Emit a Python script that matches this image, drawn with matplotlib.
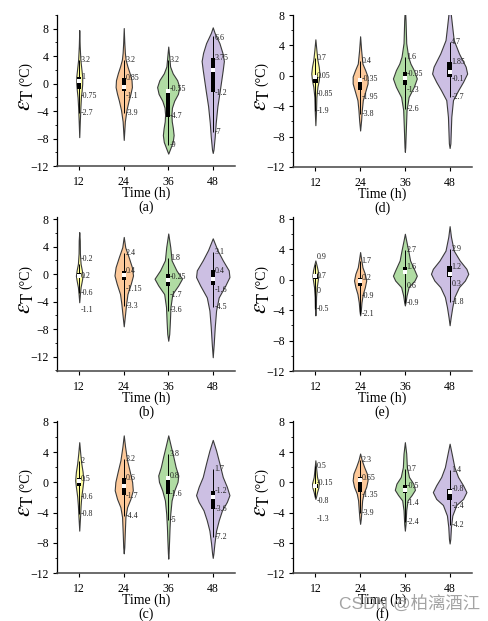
import numpy as np
import matplotlib
matplotlib.use('Agg')
import matplotlib.pyplot as plt
from matplotlib.ticker import MultipleLocator

plt.rcParams['font.family'] = 'serif'
plt.rcParams['font.serif'] = ['Liberation Serif', 'DejaVu Serif']
plt.rcParams['mathtext.fontset'] = 'stix'

times = [12, 24, 36, 48]
colors = ['#FFFF9E', '#FDC99A', '#B0DCA3', '#CCBFE3']
panels = ['a', 'b', 'c', 'd', 'e', 'f']

# density outline of each violin: y values and half widths (hours)
dens_y = {
    'a': [[7.8, 5.5, 3.5, 2.0, 1.0, 0.0, -1.0, -2.0, -3.5, -5.5, -7.8],
          [8.1, 6.0, 4.5, 3.5, 2.5, 1.5, 0.5, -0.5, -1.5, -2.5, -3.8, -5.5, -8.2],
          [5.4, 4.0, 2.5, 1.5, 0.5, -0.5, -1.5, -2.5, -3.5, -4.5, -5.5, -6.5, -7.5, -8.5, -9.5, -10.2],
          [8.2, 7.4, 6.7, 5.9, 4.5, 3.3, 2.0, 0.5, -1.0, -3.3, -5.7, -7.7, -9.6, -10.1]],
    'b': [[6.1, 4.9, 3.0, 1.5, 0.5, -0.25, -0.9, -1.9, -2.9, -4.1],
          [5.4, 3.9, 2.5, 1.0, -0.2, -1.4, -2.9, -4.3, -5.8, -7.6],
          [5.9, 3.9, 2.0, 0.54, -0.68, -1.65, -2.9, -4.8, -6.8, -8.7, -9.7],
          [5.2, 3.5, 2.0, 0.54, -0.43, -1.65, -3.4, -5.3, -7.7, -10.1, -12.1]],
    'c': [[5.3, 3.8, 2.5, 1.4, 0.26, -0.6, -1.9, -3.1, -4.4, -6.4],
          [6.2, 4.7, 2.9, 1.4, 0.04, -1.06, -2.2, -3.3, -4.6, -6.8, -8.6, -9.4],
          [6.2, 4.7, 3.4, 2.0, 0.9, 0.04, -1.06, -2.4, -4.2, -5.9, -7.7, -9.4, -10.1],
          [5.6, 4.2, 2.5, 0.7, -0.6, -1.7, -2.6, -3.7, -5.0, -6.4, -8.1, -9.4, -10.0]],
    'd': [[4.8, 3.4, 2.1, 1.2, 0.3, -0.6, -1.45, -2.8, -4.5, -6.5],
          [5.2, 3.4, 1.6, 0.75, -0.1, -1.0, -2.1, -3.2, -4.5, -5.8, -7.2],
          [9.0, 7.3, 4.3, 2.5, 1.6, 0.75, -0.35, -1.45, -2.8, -4.5, -7.6, -9.4, -10.0],
          [9.5, 6.4, 4.7, 2.95, 1.2, 0.3, -0.8, -1.9, -3.2, -5.4, -8.9, -9.5]],
    'e': [[2.5, 1.8, 1.2, 0.5, -0.13, -1.0, -2.3, -3.6, -4.7],
          [3.6, 2.7, 1.6, 0.75, -0.13, -1.0, -1.9, -3.0, -4.1, -4.7],
          [6.0, 5.1, 3.8, 2.5, 1.2, 0.5, -0.13, -1.0, -2.1, -3.0, -3.4],
          [7.0, 5.6, 3.8, 2.5, 1.4, 0.75, -0.13, -1.0, -2.3, -3.6, -5.0, -6.0]],
    'f': [[2.9, 2.0, 0.7, -0.18, -0.7, -1.3, -1.9, -2.2],
          [3.8, 2.9, 2.0, 1.15, 0.26, -0.6, -1.5, -2.4, -3.7, -4.8, -5.5],
          [5.3, 3.8, 2.0, 0.7, -0.18, -1.0, -1.7, -2.4, -3.7, -5.5, -6.4],
          [5.1, 3.8, 2.0, 0.7, -0.4, -1.3, -2.2, -3.0, -4.4, -5.9, -7.5, -8.1]],
}
dens_w = {
    'a': [[0, 0.12, 0.3, 0.6, 0.8, 0.8, 0.65, 0.45, 0.3, 0.15, 0],
          [0, 0.15, 0.3, 0.5, 1.0, 1.6, 2.1, 2.2, 1.8, 1.3, 0.75, 0.3, 0],
          [0, 0.25, 0.5, 1.2, 2.4, 3.0, 2.6, 1.6, 1.0, 0.85, 0.95, 1.25, 1.45, 1.2, 0.5, 0],
          [0, 0.5, 1.1, 1.8, 2.6, 3.0, 2.7, 2.3, 1.9, 1.25, 0.8, 0.54, 0.2, 0]],
    'b': [[0, 0.14, 0.18, 0.36, 0.72, 0.9, 0.72, 0.36, 0.18, 0],
          [0, 0.4, 1.3, 2.2, 2.5, 1.9, 1.0, 0.65, 0.36, 0],
          [0, 0.55, 0.9, 2.2, 3.7, 2.7, 1.1, 0.6, 0.45, 0.27, 0],
          [0, 1.25, 2.7, 4.3, 4.5, 3.4, 1.6, 0.9, 0.54, 0.27, 0]],
    'c': [[0, 0.27, 0.55, 0.9, 1.1, 0.9, 0.55, 0.36, 0.23, 0],
          [0, 0.36, 0.9, 1.63, 2.26, 2.44, 1.8, 0.9, 0.45, 0.27, 0.14, 0],
          [0, 0.72, 1.36, 2.0, 2.7, 2.5, 1.63, 0.9, 0.54, 0.36, 0.23, 0.09, 0],
          [0, 0.9, 1.8, 2.7, 3.8, 4.5, 3.8, 2.5, 1.63, 0.9, 0.45, 0.18, 0]],
    'd': [[0, 0.27, 0.55, 0.9, 1.1, 0.9, 0.55, 0.27, 0.18, 0],
          [0, 0.27, 0.63, 1.36, 2.0, 2.0, 1.36, 0.72, 0.45, 0.27, 0],
          [0, 0.18, 0.36, 0.9, 1.5, 2.4, 3.2, 2.4, 1.0, 0.45, 0.22, 0.1, 0],
          [0, 0.7, 1.1, 2.5, 4.3, 4.7, 3.6, 2.3, 0.9, 0.45, 0.2, 0]],
    'e': [[0, 0.36, 0.63, 0.8, 0.63, 0.36, 0.18, 0.14, 0],
          [0, 0.27, 0.63, 1.27, 1.63, 1.27, 0.72, 0.36, 0.18, 0],
          [0, 0.36, 0.9, 1.4, 2.6, 3.2, 2.6, 1.0, 0.45, 0.18, 0],
          [0, 0.36, 1.1, 2.7, 4.5, 5.0, 4.1, 2.5, 1.27, 0.72, 0.27, 0]],
    'f': [[0, 0.18, 0.45, 0.9, 0.8, 0.45, 0.18, 0],
          [0, 0.45, 1.1, 1.8, 2.0, 1.63, 0.9, 0.54, 0.36, 0.18, 0],
          [0, 0.36, 0.54, 1.1, 2.26, 2.7, 1.8, 0.72, 0.36, 0.18, 0],
          [0, 0.54, 1.27, 2.26, 3.6, 4.5, 3.6, 1.8, 0.72, 0.36, 0.18, 0]],
}

q3 = {'a': [1.0, 0.85, -0.8, 3.75], 'b': [0.1, 0.5, 0.05, 0.54], 'c': [0.5, 0.6, 0.7, -1.15],
      'd': [-0.15, -0.35, 0.53, 1.85], 'e': [0.75, 0.2, 1.6, 1.8], 'f': [-0.2, 0.7, -0.4, -0.84]}
q1 = {'a': [-0.8, -1.0, -4.8, -1.2], 'b': [-0.6, -0.8, -1.8, -1.65], 'c': [-0.5, -1.7, -1.5, -3.5],
      'd': [-0.9, -1.9, -1.2, -0.13], 'e': [0.13, -0.9, 0.8, 0.3], 'f': [-0.7, -1.3, -1.4, -2.4]}
med = {'a': [0.4, -0.5, -1.0, 2.0], 'b': [-0.25, -0.2, -0.8, -0.7], 'c': [0.1, -0.5, 0.5, -1.9],
       'd': [-0.2, -0.55, -0.35, 0.5], 'e': [0.4, -0.13, 1.0, 0.75], 'f': [-0.45, 0.26, -1.0, -1.3]}
whi = {'a': [3.5, 3.5, 3.5, 7.0], 'b': [1.5, 3.1, 2.3, 3.2], 'c': [2.8, 3.1, 3.7, 1.7],
       'd': [2.3, 1.9, 2.5, 4.5], 'e': [2.0, 2.4, 3.9, 4.0], 'f': [2.2, 2.9, 1.8, 1.6]}
wlo = {'a': [-4.3, -4.3, -9.0, -7.0], 'b': [-2.8, -4.7, -5.3, -4.8], 'c': [-4.2, -4.4, -5.0, -7.2],
       'd': [-4.6, -5.05, -4.4, -2.85], 'e': [-3.85, -4.5, -3.1, -2.9], 'f': [-2.0, -4.0, -5.2, -5.6]}

labels = {
    'a': [['3.2', '1', '-0.75', '-2.7'], ['3.2', '0.85', '-1.1', '-3.9'],
          ['3.2', '-0.55', '-4.7', '-9'], ['6.6', '3.75', '-1.2', '-7']],
    'b': [['-0.2', '0.2', '-0.6', '-1.1'], ['2.4', '0.4', '-1.15', '-3.3'],
          ['1.8', '-0.25', '-1.7', '-3.6'], ['3.1', '0.4', '-1.6', '-4.5']],
    'c': [['2', '0.5', '-0.6', '-0.8'], ['3.2', '0.6', '-1.7', '-4.4'],
          ['3.8', '0.8', '-1.6', '-5'], ['1.7', '-1.2', '-3.6', '-7.2']],
    'd': [['0.7', '0.05', '-0.85', '-1.9'], ['0.4', '-0.35', '-1.95', '-3.8'],
          ['1.6', '-0.35', '-1.3', '-2.6'], ['4.7', '1.85', '-0.1', '-2.7']],
    'e': [['0.9', '0.7', '0', '-0.5'], ['1.7', '0.2', '-0.9', '-2.1'],
          ['2.7', '1.6', '0.6', '-0.9'], ['2.9', '1.2', '0.3', '-1.8']],
    'f': [['0.5', '-0.15', '-0.8', '-1.3'], ['2.3', '0.65', '-1.35', '-3.9'],
          ['0.7', '-0.5', '-1.4', '-2.4'], ['1.4', '-0.8', '-2.4', '-4.2']],
}
label_y = {
    'a': [[3.5, 0.9, -1.75, -4.3], [3.5, 0.75, -1.75, -4.3], [3.5, -0.8, -4.7, -9.0], [6.7, 3.75, -1.3, -7.0]],
    'b': [[2.2, -0.25, -2.8, -5.3], [3.1, 0.45, -2.15, -4.7], [2.3, -0.4, -3.1, -5.3], [3.2, 0.45, -2.3, -4.8]],
    'c': [[2.8, 0.45, -1.9, -4.2], [3.1, 0.57, -1.8, -4.4], [3.7, 0.8, -1.6, -5.0], [1.7, -1.15, -3.6, -7.2]],
    'd': [[2.3, 0.0, -2.4, -4.6], [1.9, -0.45, -2.8, -5.05], [2.5, 0.3, -1.9, -4.4], [4.5, 1.85, -0.45, -2.85]],
    'e': [[3.0, 0.5, -1.5, -3.85], [2.4, 0.2, -2.1, -4.5], [3.9, 1.6, -0.8, -3.1], [4.0, 1.7, -0.57, -2.9]],
    'f': [[2.2, -0.1, -2.5, -4.8], [2.9, 0.62, -1.7, -4.0], [1.8, -0.5, -2.8, -5.2], [1.6, -0.84, -3.2, -5.6]],
}

ylims = {'a': (-12, 10), 'b': (-14.1, 8.3), 'c': (-12, 8.1),
         'd': (-12, 8), 'e': (-12, 8.2), 'f': (-12, 8.1)}

# axes boxes in pixels: left, right, top, bottom
W, H = 489, 621
boxes = {'a': (57, 235, 15, 166), 'b': (57, 235, 217, 371), 'c': (57, 235, 421, 573),
         'd': (293, 472, 15, 167), 'e': (293, 472, 217, 371), 'f': (293, 472, 421, 573)}

fig = plt.figure(figsize=(W / 100, H / 100), dpi=100)

for p in panels:
    x0, x1, yt, yb = boxes[p]
    ax = fig.add_axes([x0 / W, 1 - yb / H, (x1 - x0) / W, (yb - yt) / H])

    stats = []
    widths = []
    for i in range(4):
        ys = np.array(dens_y[p][i])
        ws = np.array(dens_w[p][i])
        stats.append({'coords': ys, 'vals': ws, 'mean': med[p][i], 'median': med[p][i],
                      'min': ys.min(), 'max': ys.max()})
        widths.append(2 * ws.max())
    parts = ax.violin(stats, positions=times, widths=widths, showmeans=False,
                      showextrema=False, showmedians=False)
    for body, c in zip(parts['bodies'], colors):
        body.set_facecolor(c)
        body.set_edgecolor('#3a3a3a')
        body.set_linewidth(0.8)
        body.set_alpha(1)

    ax.vlines(times, wlo[p], whi[p], color='k', lw=0.7, zorder=3)
    box_h = np.array(q3[p]) - np.array(q1[p])
    ax.bar(times, box_h, bottom=q1[p], width=1.2, color='k', zorder=4)
    ax.scatter(times, med[p], marker='s', s=6, color='white', zorder=5, linewidths=0)

    for i, t in enumerate(times):
        for txt, yy in zip(labels[p][i], label_y[p][i]):
            ax.text(t + 0.45, yy, txt, fontsize=5.8, color='#222222', ha='left', va='center', zorder=6)

    ax.set_xlim(6, 54)
    ax.set_ylim(*ylims[p])
    ax.set_xticks(times)
    ax.yaxis.set_major_locator(MultipleLocator(4))
    ax.yaxis.set_minor_locator(MultipleLocator(2))
    ax.tick_params(axis='both', which='major', direction='out', length=3, width=0.8, labelsize=8.5)
    ax.tick_params(axis='y', which='minor', direction='out', length=1.5, width=0.6)
    ax.tick_params(axis='x', pad=4)
    ax.tick_params(axis='y', pad=3)
    ax.spines['top'].set_visible(False)
    ax.spines['right'].set_visible(False)
    ax.spines['left'].set_linewidth(0.9)
    ax.spines['bottom'].set_linewidth(1.1)
    ax.spines['bottom'].set_color('#444444')

    ax.annotate('Time (h)', xy=(0.5, 0), xycoords='axes fraction', xytext=(0, -27),
                textcoords='offset pixels', ha='center', va='center', fontsize=10)
    ax.annotate('(' + p + ')', xy=(0.5, 0), xycoords='axes fraction', xytext=(0, -41),
                textcoords='offset pixels', ha='center', va='center', fontsize=10)
    ax.text(-0.175, 0.44, r'$\varepsilon_{\mathrm{T}}$', transform=ax.transAxes, rotation=90,
            ha='center', va='center', fontsize=17)
    ax.text(-0.175, 0.61, '(°C)', transform=ax.transAxes, rotation=90,
            ha='center', va='center', fontsize=10)

fig.text(0.982, 0.029, 'CSDN @柏漓酒江', ha='right', va='center', fontsize=12.5,
         color='#9a9a9a', alpha=0.9, family=['Liberation Sans', 'Noto Sans CJK SC'], zorder=10)

fig.savefig('out.png', dpi=100)
